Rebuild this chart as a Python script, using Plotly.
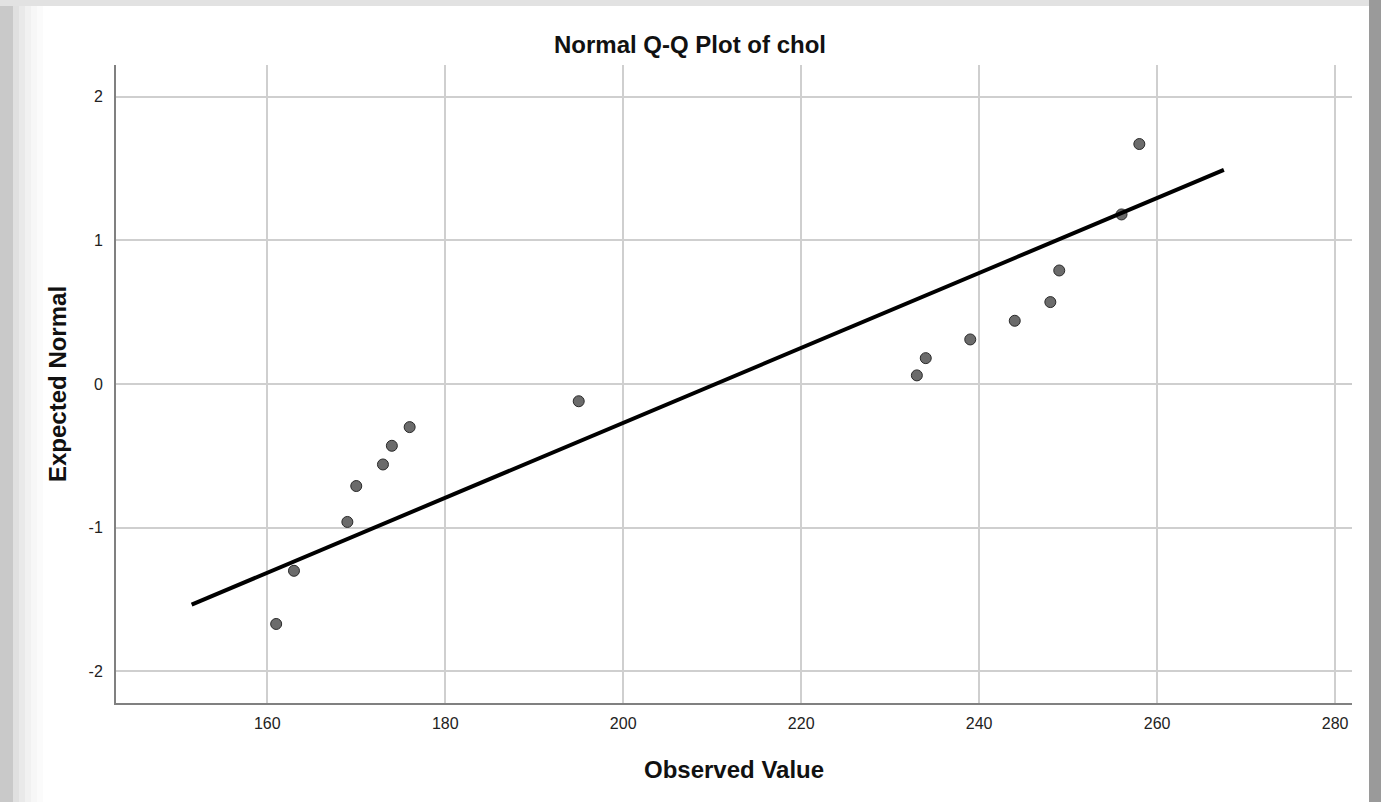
import plotly.graph_objects as go

# Data
observed = [161, 163, 169, 170, 173, 174, 176, 195, 233, 234, 239, 244, 248, 249, 256, 258]
expected = [-1.67, -1.30, -0.96, -0.71, -0.56, -0.43, -0.30, -0.12, 0.06, 0.18, 0.31, 0.44, 0.57, 0.79, 1.18, 1.67]
line_x = [151.5, 267.5]
line_y = [-1.535, 1.49]
x_ticks = [160, 180, 200, 220, 240, 260, 280]
y_ticks = [-2, -1, 0, 1, 2]
y_tick_text = ["-2", "-1", "0", "1", "2"]

W, H = 1381, 802
L, R, T, B = 116, 1352, 65, 703

def px(x):
    return (x - L) / (R - L)

def py(y):
    return (B - y) / (B - T)

fig = go.Figure()
fig.add_trace(go.Scatter(
    x=observed, y=expected, mode="markers",
    marker=dict(size=11, color="#6b6b6b", line=dict(color="#2a2a2a", width=1)),
    showlegend=False, hoverinfo="x+y"))
fig.add_trace(go.Scatter(
    x=line_x, y=line_y, mode="lines",
    line=dict(color="black", width=4),
    showlegend=False, hoverinfo="skip"))

shapes = []
# page frame: left gray strip with gradient, top strip, right strip
shapes.append(dict(type="rect", xref="paper", yref="paper", x0=px(0), x1=px(13), y0=py(802), y1=py(0),
                   fillcolor="#c9c9c9", line=dict(width=0), layer="below"))
grad = ["#e0e0e0", "#e9e9e9", "#f1f1f1", "#f7f7f7", "#fbfbfb"]
for i, c in enumerate(grad):
    shapes.append(dict(type="rect", xref="paper", yref="paper", x0=px(13 + i * 6), x1=px(19 + i * 6),
                       y0=py(802), y1=py(6), fillcolor=c, line=dict(width=0), layer="below"))
shapes.append(dict(type="rect", xref="paper", yref="paper", x0=px(0), x1=px(1381), y0=py(6), y1=py(0),
                   fillcolor="#e2e2e2", line=dict(width=0), layer="below"))
shapes.append(dict(type="rect", xref="paper", yref="paper", x0=px(1369), x1=px(1381), y0=py(802), y1=py(0),
                   fillcolor="#9a9a9a", line=dict(width=0), layer="below"))

fig.update_layout(
    width=W, height=H,
    margin=dict(l=L, r=W - R, t=T, b=H - B, autoexpand=False),
    paper_bgcolor="white", plot_bgcolor="white",
    font=dict(family="Liberation Sans, Arial, sans-serif", color="#222"),
    title=dict(text="<b>Normal Q-Q Plot of chol</b>", x=px(690), xref="paper", xanchor="center",
               y=1 - 45 / H, yref="container", yanchor="middle",
               font=dict(size=24, color="#111")),
    xaxis=dict(range=[143.0, 281.9], tickvals=x_ticks, showgrid=True, gridcolor="#cfcfcf", gridwidth=1.5,
               zeroline=False, showline=True, linecolor="#808080", linewidth=2, ticks="",
               tickfont=dict(size=16, color="#222"), ticklabelstandoff=5),
    yaxis=dict(range=[-2.22, 2.22], tickvals=y_ticks, ticktext=y_tick_text, showgrid=True,
               gridcolor="#cfcfcf", gridwidth=1.5,
               zeroline=False, showline=True, linecolor="#808080", linewidth=2, ticks="",
               tickfont=dict(size=16, color="#222"), ticklabelstandoff=8),
    shapes=shapes,
    annotations=[
        dict(text="<b>Observed Value</b>", xref="paper", yref="paper", x=px(734), y=py(769),
             xanchor="center", yanchor="middle", showarrow=False, font=dict(size=24, color="#111")),
        dict(text="<b>Expected Normal</b>", xref="paper", yref="paper", x=px(57), y=py(384),
             xanchor="center", yanchor="middle", textangle=-90, showarrow=False,
             font=dict(size=24, color="#111")),
    ],
)

fig.write_html("out.html", config={"displayModeBar": False},
               post_script="document.body.style.margin='0';document.body.style.padding='0';")
